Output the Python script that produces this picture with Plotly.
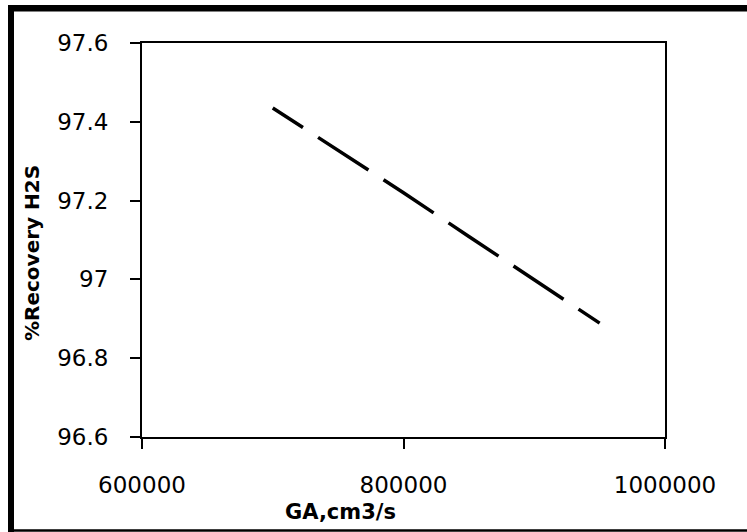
import plotly.graph_objects as go

# Gas flow rate (cm3/s) and H2S recovery (%)
gas_flow = [700000, 750000, 800000, 850000, 900000, 950000]
recovery_h2s = [97.435, 97.327, 97.220, 97.109, 97.000, 96.889]

x_ticks = [600000, 800000, 1000000]
x_tick_text = ["600000", "800000", "1000000"]
y_ticks = [96.6, 96.8, 97.0, 97.2, 97.4, 97.6]
y_tick_text = ["96.6", "96.8", "97", "97.2", "97.4", "97.6"]

W, H = 747, 532
L, R, T, B = 142, 82, 43, 95
PW, PH = W - L - R, H - T - B


def px_x(p):
    return (p - L) / PW


def px_y(p):
    return (H - B - p) / PH


tick_font = dict(family="DejaVu Sans", size=23, color="black")

fig = go.Figure()
fig.add_trace(go.Scatter(
    x=gas_flow, y=recovery_h2s, mode="lines",
    line=dict(color="black", width=3.5,
              dash="36px,18px,60px,18px,60px,18px,60px,18px,60px,18px,60px,18px"),
    showlegend=False, hoverinfo="skip",
))

fig.update_xaxes(
    range=[600000, 1000000], tickvals=x_ticks, ticktext=x_tick_text,
    showline=True, linecolor="black", linewidth=2, mirror=True,
    ticks="outside", ticklen=10, tickwidth=2, tickcolor="black",
    showgrid=False, zeroline=False, tickfont=tick_font, ticklabelstandoff=16,
)
fig.update_yaxes(
    range=[96.6, 97.6], tickvals=y_ticks, ticktext=y_tick_text,
    showline=True, linecolor="black", linewidth=2, mirror=True,
    ticks="outside", ticklen=10, tickwidth=2, tickcolor="black",
    showgrid=False, zeroline=False, tickfont=tick_font, ticklabelstandoff=17,
)

fig.update_layout(
    width=W, height=H,
    margin=dict(l=L, r=R, t=T, b=B, pad=0),
    paper_bgcolor="white", plot_bgcolor="white",
    annotations=[
        dict(text="<b>GA,cm3/s</b>", x=px_x(340), y=px_y(512),
             xref="paper", yref="paper", showarrow=False,
             xanchor="center", yanchor="middle",
             font=dict(family="DejaVu Sans", size=21, color="black")),
        dict(text="<b>%Recovery H2S</b>", x=px_x(32), y=px_y(253),
             xref="paper", yref="paper", showarrow=False, textangle=-90,
             xanchor="center", yanchor="middle",
             font=dict(family="DejaVu Sans", size=20, color="black")),
    ],
    shapes=[
        # outer frame: thick top and left edges, thin bottom edge
        dict(type="line", xref="paper", yref="paper",
             x0=px_x(8), x1=px_x(760), y0=px_y(8.3), y1=px_y(8.3),
             line=dict(color="black", width=6.5)),
        dict(type="line", xref="paper", yref="paper",
             x0=px_x(11), x1=px_x(11), y0=px_y(5), y1=px_y(540),
             line=dict(color="black", width=6)),
        dict(type="line", xref="paper", yref="paper",
             x0=px_x(8), x1=px_x(760), y0=px_y(530.5), y1=px_y(530.5),
             line=dict(color="black", width=2.5)),
    ],
)

fig.write_html("out.html")
